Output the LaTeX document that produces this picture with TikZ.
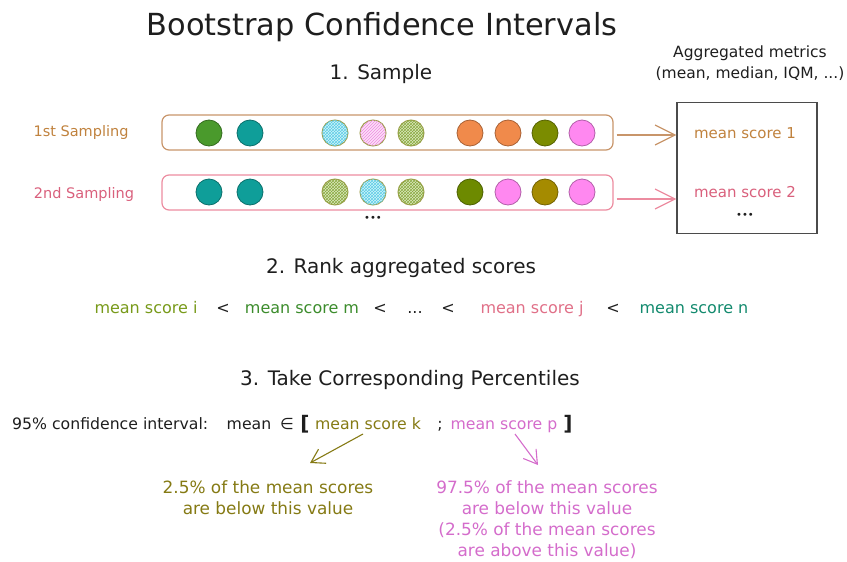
\documentclass[tikz,border=0pt]{standalone}
\usepackage{fontspec}
\setmainfont{DejaVu Sans}
\usetikzlibrary{arrows.meta,patterns}
\definecolor{ink}{HTML}{1E1E1E}
\definecolor{cbrown}{HTML}{C8956A}
\definecolor{cbrowntxt}{HTML}{C0823E}
\definecolor{cpink}{HTML}{EC8CA0}
\definecolor{cpinktxt}{HTML}{D9607C}
\definecolor{dgreen}{HTML}{4A9A2C}
\definecolor{dteal}{HTML}{0F9E99}
\definecolor{dorange}{HTML}{F08A4B}
\definecolor{dolive}{HTML}{7B8C00}
\definecolor{dolivetwo}{HTML}{6D8A00}
\definecolor{dmustard}{HTML}{A58B00}
\definecolor{dpink}{HTML}{FF88F0}
\definecolor{hcyanfill}{HTML}{D2F4FA}
\definecolor{hcyanline}{HTML}{5CCDE6}
\definecolor{hpinkfill}{HTML}{FBE0F8}
\definecolor{hpinkline}{HTML}{F08AE0}
\definecolor{holivefill}{HTML}{DCE8C0}
\definecolor{holiveline}{HTML}{8AAA40}
\definecolor{hedge}{HTML}{A0A050}
\definecolor{ti}{HTML}{789A1A}
\definecolor{tm}{HTML}{3C8C2C}
\definecolor{tj}{HTML}{E07088}
\definecolor{tn}{HTML}{138A6E}
\definecolor{tk}{HTML}{857A14}
\definecolor{tp}{HTML}{D46CCB}
\begin{document}
\begin{tikzpicture}[x=1pt,y=-1pt,
  txt/.style={font=\fontsize{16}{20}\selectfont, inner sep=0pt, text=ink, anchor=base},
  citxt/.style={font=\fontsize{15.7}{20}\selectfont, inner sep=0pt, text=ink, anchor=base},
  labtxt/.style={font=\fontsize{14.5}{18}\selectfont, inner sep=0pt, anchor=base},
  mstxt/.style={font=\fontsize{15}{18}\selectfont, inner sep=0pt, anchor=base},
  aggtxt/.style={font=\fontsize{15.5}{18}\selectfont, inner sep=0pt, text=ink, anchor=base},
  head/.style={font=\fontsize{20}{24}\selectfont, inner sep=0pt, text=ink, anchor=base},
  btxt/.style={font=\fontsize{16.9}{21}\selectfont, inner sep=0pt, anchor=base},
  dot/.style={circle, minimum size=26pt, inner sep=0pt, fill=#1, draw=#1!70!black, line width=0.8pt},
  hcyan/.style={circle, minimum size=26pt, inner sep=0pt, fill=hcyanfill, draw=hedge, line width=1pt, postaction={pattern=crosshatch, pattern color=hcyanline}},
  hpink/.style={circle, minimum size=26pt, inner sep=0pt, fill=hpinkfill, draw=hedge, line width=1pt, postaction={pattern=north east lines, pattern color=hpinkline}},
  holive/.style={circle, minimum size=26pt, inner sep=0pt, fill=holivefill, draw=hedge, line width=1pt, postaction={pattern=crosshatch, pattern color=holiveline}},
  rowbox/.style={draw=#1, rounded corners=7pt, line width=1.2pt, minimum width=451pt, minimum height=35pt, inner sep=0pt},
  arr/.style={-{Straight Barb[length=20pt,width=20pt]}, line width=1.2pt, draw=#1},
  sarr/.style={-{Straight Barb[length=13pt,width=16pt]}, line width=1.1pt, draw=#1},
  bullets/.style={font=\fontsize{10}{12}\selectfont, inner sep=0pt, text=ink}
]
\useasboundingbox (0,0) rectangle (847,562);

% titles
\node[inner sep=0pt, text=ink, font=\fontsize{30.4}{36}\selectfont, anchor=base] (title) at (382,35) {Bootstrap Confidence Intervals};
\node[head] (h1) at (381,79) {1. Sample};
\node[aggtxt] (agga) at (750,57) {Aggregated metrics};
\node[aggtxt] (aggb) at (750,78) {(mean, median, IQM, ...)};

% sampling rows
\node[labtxt, text=cbrowntxt] (lab1) at (81,136) {1st Sampling};
\node[labtxt, text=cpinktxt] (lab2) at (84,198) {2nd Sampling};
\node[rowbox=cbrown] (row1) at (387.5,132.5) {};
\node[rowbox=cpink] (row2) at (387.5,192.5) {};

\node[dot=dgreen] (a1) at (209,133) {};
\node[dot=dteal] (a2) at (250,133) {};
\node[hcyan] (a3) at (335,133) {};
\node[hpink] (a4) at (373,133) {};
\node[holive] (a5) at (411,133) {};
\node[dot=dorange] (a6) at (470,133) {};
\node[dot=dorange] (a7) at (508,133) {};
\node[dot=dolive] (a8) at (545,133) {};
\node[dot=dpink] (a9) at (582,133) {};

\node[dot=dteal] (b1) at (209,192) {};
\node[dot=dteal] (b2) at (250,192) {};
\node[holive] (b3) at (335,192) {};
\node[hcyan] (b4) at (373,192) {};
\node[holive] (b5) at (411,192) {};
\node[dot=dolivetwo] (b6) at (470,192) {};
\node[dot=dpink] (b7) at (508,192) {};
\node[dot=dmustard] (b8) at (545,192) {};
\node[dot=dpink] (b9) at (582,192) {};

\node[bullets] (moreRows) at (373,219) {•••};

% aggregated box
\node[draw=ink!80, line width=1.2pt, minimum width=140pt, minimum height=131pt, inner sep=0pt] (agg) at (747,168) {};
\node[mstxt, text=cbrowntxt] (ms1) at (745,138) {mean score 1};
\node[mstxt, text=cpinktxt] (ms2) at (745,197) {mean score 2};
\node[bullets] (moreScores) at (745,216) {•••};

\draw[arr=cbrown] ([yshift=-2.5pt]row1.east) ++(3,0) -- ([yshift=-2.5pt]row1.east -| agg.west);
\draw[arr=cpink] ([yshift=-6.5pt]row2.east) ++(3,0) -- ([yshift=-6.5pt]row2.east -| agg.west);

% rank
\node[head] (h2) at (401,273) {2. Rank aggregated scores};
\node[txt, text=ti] (ri) at (146,313) {mean score i};
\node[txt] (lt1) at (223,313) {<};
\node[txt, text=tm] (rm) at (302,313) {mean score m};
\node[txt] (lt2) at (380,313) {<};
\node[txt] (rdots) at (415,313) {...};
\node[txt] (lt3) at (448,313) {<};
\node[txt, text=tj] (rj) at (532,313) {mean score j};
\node[txt] (lt4) at (613,313) {<};
\node[txt, text=tn] (rn) at (694,313) {mean score n};

% percentiles
\node[head] (h3) at (410,385) {3. Take Corresponding Percentiles};
\node[citxt, anchor=base west] (ci) at (12,429) {95\% confidence interval:};
\node[citxt] (mn) at (249,429) {mean};
\node[citxt] (elem) at (287,429) {∈};
\node[citxt, font=\fontsize{20}{22}\selectfont\bfseries] (lb) at (305,430) {[};
\node[citxt, text=tk] (sk) at (368,429) {mean score k};
\node[citxt] (semi) at (440,429) {;};
\node[citxt, text=tp] (sp) at (504,429) {mean score p};
\node[citxt, font=\fontsize{20}{22}\selectfont\bfseries] (rb) at (568,430) {]};

\coordinate (kend) at (310,463);
\coordinate (pend) at (538,465);
\draw[sarr=tk] ([xshift=-5pt,yshift=-5pt]sk.base) -- (kend);
\draw[sarr=tp] ([xshift=11pt,yshift=-5pt]sp.base) -- (pend);

\node[btxt, text=tk] (bk1) at (268,493) {2.5\% of the mean scores};
\node[btxt, text=tk] (bk2) at (268,514) {are below this value};
\node[btxt, text=tp] (bp1) at (547,493) {97.5\% of the mean scores};
\node[btxt, text=tp] (bp2) at (547,514) {are below this value};
\node[btxt, text=tp] (bp3) at (547,535) {(2.5\% of the mean scores};
\node[btxt, text=tp] (bp4) at (547,556) {are above this value)};
\end{tikzpicture}
\end{document}
